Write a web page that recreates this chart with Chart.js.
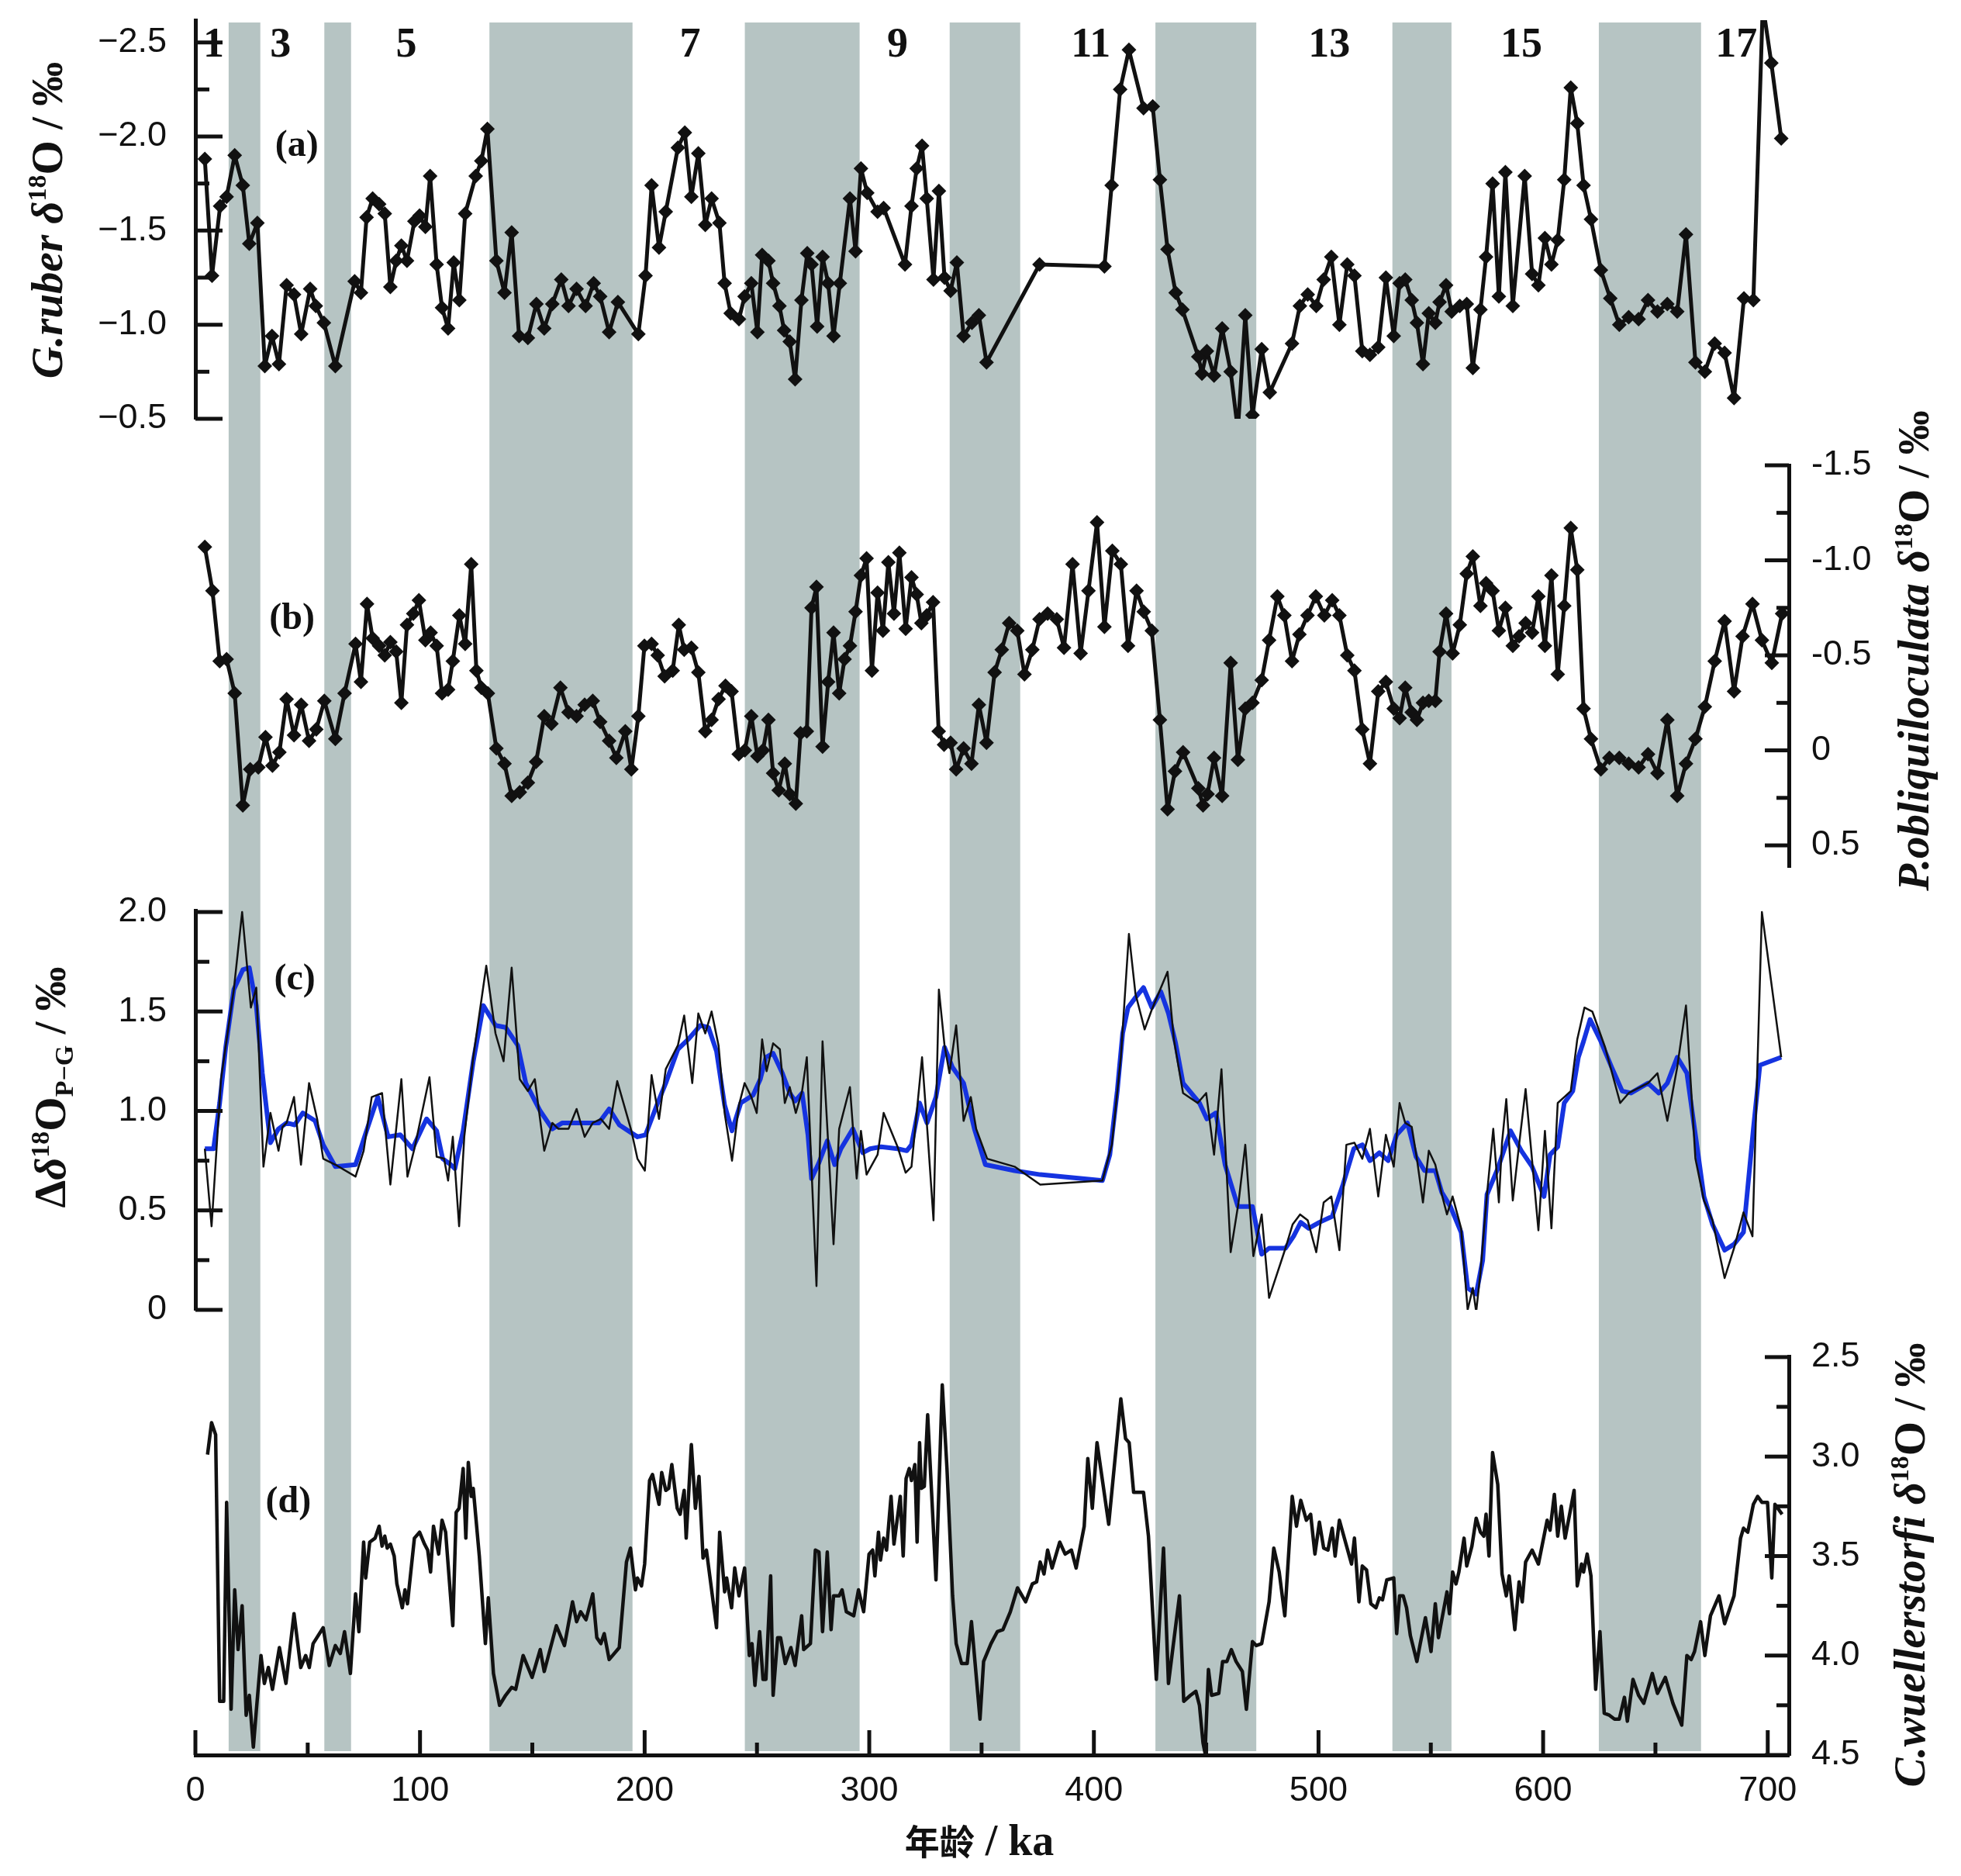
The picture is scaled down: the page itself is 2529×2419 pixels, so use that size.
<!DOCTYPE html>
<html>
<head>
<meta charset="utf-8">
<script src="https://cdn.jsdelivr.net/npm/chart.js@4.4.1/dist/chart.umd.min.js"></script>
<style>
  html, body { margin: 0; padding: 0; background: #fff; }
  #wrap { width: 2529px; height: 2419px; position: relative; }
</style>
</head>
<body>
<div id="wrap"><canvas id="chart"></canvas></div>
<script>
// glacial stages (shaded) and MIS numbers
const bands = [[14.8, 28.9], [57.4, 69.3], [130.9, 194.6], [244.6, 295.7],
  [335.8, 367.2], [427.4, 472.3], [532.9, 559.2], [624.8, 670.3]];
const misLabels = ['1', '3', '5', '7', '9', '11', '13', '15', '17'];
const misAges = [8.1, 37.9, 93.9, 220.2, 312.6, 398.6, 504.8, 590.3, 686.0];
const ageTicks = [0, 100, 200, 300, 400, 500, 600, 700];
const panelTags = ['(a)', '(b)', '(c)', '(d)'];
const tagAges = [45.1, 43.0, 44.2, 41.4];
const tagVals = [-1.95, -0.69, 1.66, 3.23];

// (a) G.ruber d18O
const rAge = [4.2, 7.4, 11.0, 13.9, 17.5, 21.1, 24.0, 27.6, 30.9, 34.1,
  37.2, 40.6, 43.9, 47.1, 51.1, 53.6, 57.2, 62.3, 70.9, 73.7,
  76.2, 78.9, 81.8, 84.3, 86.8, 89.4, 91.7, 94.2, 97.5, 99.8,
  102.4, 104.5, 107.4, 109.8, 112.5, 115.0, 117.5, 120.1, 124.8, 127.3,
  130.0, 134.0, 137.6, 140.8, 144.1, 148.0, 151.8, 155.3, 158.9, 162.9,
  166.1, 169.7, 173.7, 177.3, 180.2, 184.2, 188.1, 197.2, 200.4, 203.1,
  206.4, 209.4, 214.8, 217.9, 220.8, 223.9, 227.0, 229.8, 233.3, 235.6,
  238.3, 242.0, 244.5, 247.5, 250.2, 252.3, 255.1, 257.2, 260.0, 262.1,
  264.6, 267.0, 269.8, 272.4, 274.3, 276.8, 279.2, 281.7, 284.1, 286.9,
  291.4, 293.9, 296.3, 299.1, 303.7, 306.4, 315.9, 318.8, 321.1, 323.5,
  325.6, 328.6, 331.0, 333.5, 336.2, 339.0, 342.0, 345.7, 348.8, 352.2,
  375.8, 404.7, 407.9, 411.7, 415.6, 422.1, 426.2, 429.4, 432.8, 436.4,
  439.4, 446.5, 448.1, 450.3, 453.5, 457.1, 460.9, 464.1, 467.4, 470.6,
  474.7, 478.3, 488.2, 491.7, 495.2, 499.0, 502.3, 505.7, 509.3, 512.8,
  516.0, 519.5, 522.9, 526.6, 530.0, 533.5, 536.1, 538.6, 541.5, 543.8,
  546.5, 549.1, 552.0, 553.9, 556.8, 559.3, 562.9, 566.0, 568.7, 572.1,
  574.6, 577.5, 580.3, 583.2, 586.5, 591.8, 595.1, 597.9, 600.8, 603.7,
  606.5, 609.4, 612.3, 615.2, 618.0, 621.3, 625.7, 629.9, 633.9, 638.1,
  642.5, 646.7, 650.9, 655.3, 659.7, 663.6, 667.8, 672.0, 676.4, 680.8,
  685.0, 689.4, 693.6, 697.8, 701.6, 706.0];
const rVal = [-1.88, -1.26, -1.63, -1.68, -1.90, -1.74, -1.43, -1.54, -0.78, -0.94,
  -0.79, -1.21, -1.16, -0.95, -1.19, -1.10, -1.01, -0.78, -1.23, -1.17,
  -1.57, -1.67, -1.64, -1.59, -1.20, -1.34, -1.42, -1.34, -1.55, -1.58,
  -1.52, -1.79, -1.32, -1.09, -0.98, -1.33, -1.13, -1.59, -1.79, -1.87,
  -2.04, -1.34, -1.17, -1.49, -0.94, -0.93, -1.11, -0.98, -1.11, -1.24,
  -1.10, -1.19, -1.10, -1.22, -1.15, -0.96, -1.12, -0.95, -1.26, -1.74,
  -1.41, -1.60, -1.94, -2.02, -1.68, -1.91, -1.53, -1.67, -1.54, -1.22,
  -1.06, -1.03, -1.15, -1.22, -0.96, -1.37, -1.34, -1.22, -1.10, -0.97,
  -0.91, -0.71, -1.13, -1.38, -1.32, -0.99, -1.36, -1.22, -0.94, -1.22,
  -1.67, -1.39, -1.83, -1.70, -1.60, -1.62, -1.32, -1.63, -1.83, -1.95,
  -1.67, -1.24, -1.71, -1.25, -1.18, -1.33, -0.94, -1.01, -1.05, -0.80,
  -1.32, -1.31, -1.74, -2.25, -2.46, -2.15, -2.16, -1.77, -1.40, -1.17,
  -1.08, -0.83, -0.74, -0.86, -0.73, -0.98, -0.75, -0.44, -1.05, -0.52,
  -0.87, -0.64, -0.90, -1.10, -1.16, -1.10, -1.24, -1.36, -1.00, -1.32,
  -1.26, -0.86, -0.84, -0.88, -1.25, -0.94, -1.22, -1.24, -1.13, -1.01,
  -0.79, -1.06, -1.01, -1.12, -1.21, -1.07, -1.10, -1.11, -0.77, -1.08,
  -1.36, -1.75, -1.15, -1.81, -1.10, -1.79, -1.27, -1.21, -1.46, -1.32,
  -1.45, -1.77, -2.26, -2.07, -1.74, -1.56, -1.29, -1.14, -1.00, -1.04,
  -1.03, -1.13, -1.07, -1.11, -1.07, -1.48, -0.80, -0.75, -0.90, -0.85,
  -0.61, -1.14, -1.13, -2.70, -2.39, -1.99];

// (b) P.obliquiloculata d18O
const pAge = [4.2, 7.6, 10.8, 13.9, 17.5, 21.1, 24.4, 28.0, 31.2, 34.3,
  37.4, 40.6, 43.9, 47.1, 50.6, 53.8, 57.4, 62.3, 66.4, 71.3,
  73.7, 76.4, 78.9, 81.8, 84.3, 86.8, 89.4, 91.7, 94.2, 97.0,
  99.5, 102.4, 104.7, 107.4, 109.8, 112.5, 114.6, 117.5, 120.1, 122.8,
  125.1, 127.3, 130.2, 134.0, 137.6, 140.8, 144.4, 148.0, 151.7, 155.3,
  158.5, 162.5, 166.1, 169.7, 173.3, 176.9, 180.2, 184.2, 187.4, 191.4,
  194.1, 197.2, 199.9, 203.1, 205.8, 208.9, 212.5, 215.2, 217.6, 220.8,
  223.9, 227.0, 229.8, 232.9, 236.0, 238.7, 241.9, 244.6, 247.5, 250.2,
  252.7, 255.1, 257.2, 259.7, 262.4, 264.6, 267.3, 269.4, 272.2, 274.3,
  276.5, 279.2, 281.7, 284.1, 286.6, 289.0, 291.4, 293.9, 296.3, 298.8,
  301.2, 303.7, 306.1, 308.5, 311.0, 313.4, 316.2, 318.8, 321.1, 323.2,
  325.6, 328.4, 330.9, 333.3, 336.2, 338.7, 342.0, 345.5, 348.8, 352.2,
  355.8, 359.0, 362.3, 365.9, 369.1, 372.6, 375.8, 379.4, 383.5, 386.7,
  390.5, 394.1, 397.6, 401.4, 404.7, 408.2, 412.0, 415.2, 419.0, 422.2,
  425.8, 429.4, 432.8, 436.1, 439.7, 446.5, 448.6, 450.6, 453.5, 457.1,
  460.9, 464.1, 467.4, 470.6, 474.7, 478.0, 481.7, 484.8, 488.2, 491.5,
  495.1, 498.8, 502.6, 506.1, 509.3, 512.8, 516.0, 519.5, 522.9, 526.6,
  530.0, 533.5, 536.1, 538.6, 541.5, 543.8, 546.5, 549.1, 552.0, 553.9,
  556.8, 559.7, 562.9, 566.0, 568.7, 572.1, 574.6, 577.5, 580.3, 583.2,
  586.5, 589.3, 592.2, 595.1, 597.9, 600.8, 603.7, 606.5, 609.4, 612.3,
  615.2, 618.0, 621.3, 625.7, 629.5, 633.9, 638.1, 642.5, 646.7, 650.9,
  655.3, 659.7, 663.6, 667.8, 672.0, 676.4, 680.8, 685.0, 688.8, 693.2,
  697.4, 701.8, 706.4];
const pVal = [-1.07, -0.84, -0.47, -0.48, -0.30, 0.29, 0.10, 0.09, -0.07, 0.08,
  0.01, -0.27, -0.08, -0.24, -0.05, -0.11, -0.26, -0.06, -0.30, -0.56,
  -0.36, -0.77, -0.59, -0.55, -0.50, -0.57, -0.52, -0.25, -0.66, -0.72,
  -0.79, -0.58, -0.62, -0.55, -0.30, -0.32, -0.47, -0.71, -0.56, -0.98,
  -0.42, -0.33, -0.30, -0.01, 0.07, 0.24, 0.22, 0.17, 0.06, -0.18,
  -0.14, -0.33, -0.20, -0.18, -0.24, -0.26, -0.15, -0.05, 0.04, -0.10,
  0.10, -0.18, -0.55, -0.56, -0.50, -0.39, -0.42, -0.66, -0.53, -0.54,
  -0.41, -0.10, -0.16, -0.27, -0.34, -0.31, 0.02, 0.00, -0.18, 0.03,
  0.00, -0.16, 0.12, 0.21, 0.07, 0.23, 0.28, -0.09, -0.10, -0.75,
  -0.86, -0.02, -0.36, -0.62, -0.30, -0.48, -0.55, -0.73, -0.92, -1.01,
  -0.42, -0.83, -0.63, -0.99, -0.72, -1.04, -0.64, -0.91, -0.82, -0.67,
  -0.71, -0.78, -0.10, -0.03, -0.04, 0.10, -0.01, 0.07, -0.24, -0.04,
  -0.41, -0.53, -0.67, -0.63, -0.40, -0.53, -0.69, -0.72, -0.69, -0.54,
  -0.98, -0.51, -0.84, -1.20, -0.65, -1.05, -0.98, -0.55, -0.84, -0.73,
  -0.63, -0.16, 0.31, 0.11, 0.01, 0.20, 0.29, 0.23, 0.04, 0.24,
  -0.46, 0.05, -0.22, -0.25, -0.37, -0.58, -0.81, -0.71, -0.47, -0.61,
  -0.71, -0.81, -0.71, -0.79, -0.71, -0.50, -0.42, -0.11, 0.07, -0.31,
  -0.36, -0.22, -0.17, -0.33, -0.20, -0.16, -0.25, -0.26, -0.26, -0.52,
  -0.72, -0.51, -0.66, -0.93, -1.02, -0.76, -0.88, -0.84, -0.63, -0.75,
  -0.55, -0.60, -0.67, -0.62, -0.81, -0.55, -0.92, -0.40, -0.76, -1.17,
  -0.95, -0.22, -0.06, 0.10, 0.04, 0.04, 0.07, 0.09, 0.02, 0.12,
  -0.16, 0.24, 0.07, -0.06, -0.23, -0.47, -0.68, -0.31, -0.60, -0.77,
  -0.58, -0.46, -0.72];

// (c) delta d18O (P - G), raw
const dAge = [4.2, 7.2, 11.4, 17.1, 20.8, 22.9, 24.7, 27.1, 28.3, 30.3,
  33.4, 37.0, 38.8, 40.6, 43.9, 47.0, 50.6, 54.2, 56.9, 62.3,
  71.3, 74.9, 78.5, 83.1, 86.8, 91.7, 94.4, 97.5, 104.2, 107.4,
  110.7, 112.5, 114.6, 117.4, 119.7, 123.7, 129.5, 133.6, 137.2, 140.8,
  144.4, 148.0, 151.1, 155.3, 158.9, 161.6, 166.1, 169.7, 173.3, 176.9,
  180.5, 184.2, 187.8, 194.1, 196.8, 200.1, 203.1, 206.4, 209.4, 214.8,
  217.6, 221.2, 223.9, 227.0, 229.8, 232.9, 235.6, 238.9, 242.0, 244.5,
  247.5, 249.9, 252.3, 254.3, 257.2, 260.2, 262.4, 264.6, 267.3, 270.1,
  272.2, 276.5, 279.2, 281.7, 284.1, 286.6, 291.4, 294.4, 296.3, 298.8,
  303.7, 306.4, 312.6, 316.2, 318.8, 323.5, 326.0, 328.6, 331.0, 333.5,
  335.7, 338.7, 342.0, 345.2, 347.6, 352.5, 364.7, 376.1, 403.8, 408.0,
  412.0, 415.6, 418.5, 422.6, 425.8, 432.8, 435.6, 439.7, 446.2, 450.0,
  453.5, 456.8, 460.9, 464.4, 467.4, 471.0, 474.7, 478.0, 485.3, 488.5,
  491.8, 495.2, 499.0, 502.3, 505.7, 509.3, 512.4, 516.0, 519.5, 522.9,
  526.6, 530.0, 533.5, 536.1, 538.6, 541.5, 543.8, 546.5, 549.1, 552.0,
  554.9, 557.2, 559.7, 563.5, 566.4, 568.7, 570.2, 572.1, 575.0, 577.8,
  580.3, 581.7, 583.6, 586.5, 589.3, 592.2, 595.1, 597.9, 600.8, 603.7,
  606.5, 609.4, 612.3, 615.2, 618.4, 621.9, 627.6, 634.3, 638.1, 646.7,
  650.9, 655.3, 659.7, 663.6, 667.8, 671.6, 675.4, 680.8, 685.0, 689.2,
  693.2, 697.4, 706.0];
const dVal = [0.81, 0.42, 1.16, 1.61, 2.00, 1.74, 1.52, 1.62, 1.29, 0.72,
  0.99, 0.80, 0.92, 0.94, 1.07, 0.73, 1.14, 0.96, 0.76, 0.73,
  0.67, 0.80, 1.07, 1.09, 0.63, 1.16, 0.67, 0.81, 1.17, 0.77,
  0.76, 0.65, 0.87, 0.42, 0.87, 1.27, 1.73, 1.39, 1.25, 1.72,
  1.16, 1.10, 1.16, 0.80, 0.94, 0.91, 0.91, 1.01, 0.87, 0.94,
  0.96, 0.91, 1.15, 0.90, 0.76, 0.70, 1.18, 0.96, 1.21, 1.33,
  1.48, 1.14, 1.49, 1.39, 1.50, 1.33, 0.99, 0.75, 1.03, 1.14,
  1.07, 0.99, 1.36, 1.20, 1.34, 1.31, 1.04, 1.12, 0.99, 1.10,
  1.27, 0.12, 1.35, 0.84, 0.33, 0.91, 1.12, 0.66, 0.90, 0.68,
  0.78, 0.99, 0.82, 0.69, 0.72, 1.27, 0.88, 0.45, 1.61, 1.33,
  1.19, 1.43, 0.95, 1.07, 0.91, 0.76, 0.72, 0.63, 0.65, 0.83,
  1.27, 1.89, 1.59, 1.41, 1.51, 1.70, 1.36, 1.09, 1.04, 1.09,
  0.78, 1.21, 0.29, 0.54, 0.83, 0.27, 0.48, 0.06, 0.31, 0.43,
  0.48, 0.45, 0.29, 0.54, 0.57, 0.30, 0.83, 0.84, 0.76, 0.91,
  0.57, 0.88, 0.72, 1.04, 0.94, 0.92, 0.76, 0.54, 0.80, 0.73,
  0.58, 0.48, 0.57, 0.41, 0.00, 0.11, -0.01, 0.19, 0.58, 0.91,
  0.54, 0.84, 1.06, 0.55, 0.83, 1.11, 0.75, 0.40, 0.90, 0.41,
  1.04, 1.07, 1.10, 1.36, 1.52, 1.50, 1.32, 1.04, 1.09, 1.14,
  1.19, 0.95, 1.22, 1.53, 0.76, 0.55, 0.45, 0.16, 0.31, 0.49,
  0.37, 2.00, 1.27];

// (c) delta d18O (P - G), smoothed
const sAge = [4.2, 8.1, 10.8, 13.5, 17.1, 21.1, 24.0, 27.1, 29.8, 33.4,
  37.0, 40.6, 44.2, 47.8, 53.3, 56.9, 62.3, 71.3, 75.3, 81.2,
  85.8, 91.2, 96.6, 102.9, 107.4, 110.1, 113.7, 115.5, 119.2, 123.7,
  128.2, 133.6, 138.1, 143.5, 147.1, 153.5, 158.9, 163.4, 170.6, 179.6,
  184.2, 188.7, 196.8, 200.4, 205.8, 209.4, 214.8, 219.4, 224.8, 228.4,
  232.0, 235.6, 238.9, 242.8, 248.3, 251.5, 254.0, 257.2, 261.3, 264.6,
  267.0, 270.1, 272.7, 274.3, 277.6, 281.3, 284.6, 287.4, 292.7, 297.1,
  300.4, 305.3, 312.6, 316.7, 318.8, 322.4, 325.7, 329.7, 333.5, 337.0,
  342.0, 346.8, 351.7, 364.7, 376.1, 403.8, 407.1, 410.4, 412.8, 415.2,
  418.5, 422.1, 425.8, 429.8, 433.2, 436.4, 439.7, 447.0, 450.3, 454.3,
  458.4, 464.1, 470.6, 474.7, 478.0, 485.3, 488.9, 492.1, 495.6, 500.4,
  506.1, 510.9, 515.7, 519.5, 522.9, 527.1, 531.0, 534.8, 539.6, 543.4,
  547.2, 552.0, 554.9, 558.7, 563.5, 566.4, 570.2, 573.1, 575.0, 579.8,
  585.5, 590.3, 595.1, 600.4, 603.1, 606.5, 609.4, 613.2, 615.7, 618.0,
  620.9, 625.7, 630.5, 635.2, 639.1, 646.7, 651.5, 655.3, 659.7, 664.0,
  667.8, 671.6, 675.4, 680.8, 685.0, 689.2, 693.6, 696.5, 706.0];
const sVal = [0.81, 0.81, 1.04, 1.32, 1.61, 1.71, 1.72, 1.53, 1.19, 0.84,
  0.91, 0.94, 0.93, 0.99, 0.95, 0.83, 0.72, 0.73, 0.87, 1.07,
  0.87, 0.88, 0.81, 0.96, 0.90, 0.76, 0.73, 0.71, 0.90, 1.25,
  1.53, 1.43, 1.42, 1.33, 1.14, 1.00, 0.91, 0.94, 0.94, 0.94,
  1.01, 0.93, 0.87, 0.88, 1.04, 1.14, 1.31, 1.36, 1.43, 1.42,
  1.30, 1.03, 0.90, 1.04, 1.08, 1.16, 1.27, 1.29, 1.19, 1.09,
  1.05, 1.09, 0.88, 0.66, 0.74, 0.85, 0.73, 0.81, 0.91, 0.79,
  0.81, 0.82, 0.81, 0.80, 0.83, 1.04, 0.94, 1.07, 1.32, 1.22,
  1.14, 0.91, 0.73, 0.70, 0.68, 0.65, 0.78, 1.10, 1.39, 1.52,
  1.57, 1.62, 1.52, 1.60, 1.49, 1.34, 1.14, 1.04, 0.96, 0.99,
  0.73, 0.52, 0.52, 0.28, 0.31, 0.31, 0.37, 0.44, 0.41, 0.44,
  0.47, 0.63, 0.81, 0.83, 0.75, 0.79, 0.75, 0.88, 0.94, 0.77,
  0.70, 0.70, 0.59, 0.52, 0.39, 0.11, 0.08, 0.25, 0.58, 0.71,
  0.90, 0.80, 0.72, 0.57, 0.78, 0.82, 1.04, 1.10, 1.27, 1.35,
  1.46, 1.35, 1.22, 1.10, 1.09, 1.14, 1.09, 1.14, 1.27, 1.19,
  0.88, 0.57, 0.43, 0.30, 0.33, 0.39, 0.91, 1.23, 1.27];

// (d) C.wuellerstorfi d18O
const wAge = [5.4, 7.2, 9.0, 10.8, 12.6, 13.9, 15.9, 17.5, 19.0, 20.8,
  22.6, 24.0, 25.8, 27.1, 29.2, 30.7, 32.5, 34.3, 37.4, 40.3,
  43.9, 46.9, 49.1, 50.7, 52.4, 56.9, 59.6, 62.3, 64.5, 66.4,
  69.0, 71.3, 72.8, 74.9, 75.8, 77.6, 80.0, 81.8, 83.1, 84.3,
  85.4, 86.8, 88.5, 89.7, 92.1, 93.3, 94.4, 97.5, 99.8, 102.0,
  103.4, 104.7, 106.0, 108.3, 109.8, 111.4, 114.6, 116.1, 117.4, 119.2,
  120.4, 121.5, 122.8, 123.7, 126.4, 129.1, 130.4, 132.7, 135.4, 138.1,
  140.8, 142.6, 145.9, 149.9, 153.5, 155.3, 160.7, 164.3, 167.9, 169.7,
  171.5, 173.9, 176.9, 178.7, 180.5, 182.0, 184.2, 188.7, 191.9, 193.7,
  195.9, 196.8, 198.6, 200.0, 202.2, 203.5, 206.4, 207.6, 209.4, 210.7,
  212.1, 214.5, 215.8, 217.6, 218.5, 220.8, 222.6, 224.2, 226.0, 227.5,
  232.0, 233.4, 235.6, 236.5, 238.7, 240.1, 242.0, 244.5, 246.6, 247.8,
  249.1, 251.2, 252.7, 254.0, 256.1, 257.2, 259.2, 260.5, 262.6, 265.1,
  267.0, 269.9, 270.8, 273.8, 276.0, 277.6, 279.2, 281.3, 283.0, 284.1,
  286.6, 287.9, 289.8, 293.1, 295.2, 297.5, 299.9, 301.5, 302.5, 304.1,
  305.0, 306.4, 307.7, 309.7, 311.0, 313.8, 315.1, 316.4, 317.8, 318.8,
  320.3, 321.3, 322.4, 323.2, 324.5, 326.0, 329.7, 332.5, 334.6, 337.1,
  338.7, 341.1, 343.6, 345.5, 349.3, 350.9, 354.2, 357.0, 359.5, 362.8,
  366.0, 369.6, 372.6, 374.5, 376.1, 377.8, 379.4, 381.4, 384.8, 387.2,
  390.0, 392.1, 395.7, 397.3, 399.3, 401.4, 406.6, 412.0, 414.1, 415.7,
  417.7, 422.1, 424.3, 427.8, 431.0, 433.2, 438.1, 440.0, 443.0, 445.4,
  447.0, 448.6, 449.5, 451.0, 452.4, 455.6, 457.3, 459.2, 461.2, 463.3,
  466.1, 467.9, 470.6, 472.3, 474.7, 478.0, 480.1, 482.5, 485.0, 488.3,
  490.2, 492.1, 494.6, 496.5, 498.4, 500.4, 502.3, 504.2, 506.1, 507.4,
  509.3, 514.7, 516.0, 518.0, 519.5, 521.4, 523.3, 525.6, 527.1, 528.5,
  530.4, 533.5, 534.8, 536.1, 537.7, 539.2, 540.9, 543.8, 545.3, 547.6,
  550.1, 552.0, 553.4, 557.2, 558.3, 559.7, 561.2, 562.5, 564.8, 566.0,
  568.3, 570.2, 572.1, 573.6, 574.6, 575.9, 577.5, 579.8, 581.7, 583.6,
  584.9, 587.4, 589.3, 590.7, 592.2, 595.1, 597.9, 601.8, 603.1, 605.0,
  606.5, 608.1, 609.8, 613.8, 615.2, 617.1, 618.0, 619.6, 621.3, 623.4,
  625.3, 627.2, 629.5, 631.8, 633.9, 636.2, 637.5, 640.0, 642.5, 644.8,
  648.6, 650.9, 654.4, 657.8, 661.7, 664.0, 665.9, 667.4, 670.1, 672.0,
  674.5, 678.3, 680.8, 685.0, 687.9, 689.2, 691.1, 693.6, 695.5, 697.4,
  699.9, 701.8, 703.2, 706.4];
const wVal = [2.99, 2.83, 2.89, 4.23, 4.23, 3.23, 4.27, 3.67, 3.97, 3.75,
  4.30, 4.20, 4.46, 4.28, 4.00, 4.14, 4.06, 4.17, 3.96, 4.14,
  3.79, 4.06, 4.00, 4.06, 3.94, 3.86, 4.05, 3.95, 3.99, 3.88,
  4.09, 3.69, 3.88, 3.43, 3.61, 3.43, 3.41, 3.35, 3.45, 3.40,
  3.46, 3.44, 3.50, 3.64, 3.76, 3.67, 3.74, 3.41, 3.38, 3.44,
  3.47, 3.58, 3.35, 3.49, 3.32, 3.38, 3.85, 3.28, 3.26, 3.06,
  3.41, 3.03, 3.20, 3.16, 3.50, 3.94, 3.71, 4.09, 4.25, 4.20,
  4.16, 4.17, 4.00, 4.11, 3.97, 4.08, 3.85, 3.95, 3.73, 3.83,
  3.78, 3.82, 3.69, 3.91, 3.94, 3.89, 4.02, 3.96, 3.53, 3.46,
  3.67, 3.61, 3.65, 3.54, 3.12, 3.09, 3.24, 3.08, 3.17, 3.16,
  3.04, 3.26, 3.29, 3.17, 3.41, 2.94, 3.26, 3.10, 3.51, 3.47,
  3.86, 3.38, 3.68, 3.61, 3.76, 3.56, 3.70, 3.56, 4.00, 3.94,
  4.15, 3.88, 4.12, 4.12, 3.60, 4.20, 3.91, 3.91, 4.04, 3.96,
  4.05, 3.80, 3.97, 3.94, 3.47, 3.48, 3.88, 3.48, 3.87, 3.70,
  3.70, 3.67, 3.78, 3.80, 3.67, 3.78, 3.49, 3.47, 3.60, 3.38,
  3.52, 3.41, 3.47, 3.20, 3.44, 3.20, 3.50, 3.11, 3.06, 3.12,
  3.04, 3.43, 2.93, 3.16, 3.15, 2.79, 3.62, 2.64, 3.06, 3.70,
  3.94, 4.04, 4.04, 3.83, 4.32, 4.03, 3.94, 3.88, 3.87, 3.78,
  3.66, 3.73, 3.64, 3.63, 3.53, 3.59, 3.47, 3.56, 3.43, 3.49,
  3.47, 3.56, 3.35, 3.01, 3.26, 2.93, 3.34, 2.71, 2.91, 2.93,
  3.18, 3.18, 3.40, 4.12, 3.46, 4.14, 3.70, 4.23, 4.20, 4.18,
  4.25, 4.44, 4.49, 4.07, 4.20, 4.19, 4.03, 4.03, 3.97, 4.03,
  4.08, 4.27, 3.93, 3.95, 3.94, 3.73, 3.46, 3.58, 3.80, 3.20,
  3.35, 3.22, 3.32, 3.29, 3.49, 3.33, 3.46, 3.47, 3.36, 3.50,
  3.32, 3.54, 3.41, 3.73, 3.55, 3.57, 3.74, 3.76, 3.71, 3.72,
  3.62, 3.61, 3.89, 3.70, 3.70, 3.76, 3.90, 4.03, 3.94, 3.81,
  3.98, 3.74, 3.91, 3.68, 3.79, 3.58, 3.64, 3.58, 3.41, 3.55,
  3.45, 3.31, 3.38, 3.40, 3.29, 3.50, 2.98, 3.14, 3.59, 3.70,
  3.60, 3.87, 3.63, 3.73, 3.53, 3.47, 3.54, 3.32, 3.37, 3.19,
  3.40, 3.25, 3.41, 3.17, 3.65, 3.54, 3.58, 3.49, 3.60, 4.17,
  3.88, 4.29, 4.30, 4.32, 4.32, 4.21, 4.33, 4.12, 4.20, 4.24,
  4.09, 4.19, 4.11, 4.24, 4.35, 4.00, 4.02, 3.98, 3.83, 4.00,
  3.80, 3.70, 3.84, 3.70, 3.41, 3.36, 3.38, 3.24, 3.20, 3.23,
  3.23, 3.61, 3.24, 3.29];

const SERIF = '"Liberation Serif", "Times New Roman", serif';
const SANS = '"Liberation Sans", Arial, sans-serif';
const INK = '#111';

const pts = (xs, ys) => xs.map((x, i) => ({ x: x, y: ys[i] }));

function seg(ctx, x1, y1, x2, y2) {
  ctx.beginPath();
  ctx.moveTo(x1, y1);
  ctx.lineTo(x2, y2);
  ctx.stroke();
}

// inward tick marks, majors on the labelled values and minors halfway
function yMarks(ctx, s, dir, major, minor) {
  const x0 = dir > 0 ? s.right : s.left;
  const t = s.ticks.map(k => k.value);
  t.forEach((v, i) => {
    const y = s.getPixelForValue(v);
    seg(ctx, x0, y, x0 + dir * major, y);
    if (i < t.length - 1) {
      const ym = s.getPixelForValue((v + t[i + 1]) / 2);
      seg(ctx, x0, ym, x0 + dir * minor, ym);
    }
  });
}

// mixed-style text (italic names, superscript 18, subscript P-G)
function rich(ctx, cx, cy, parts, size, rot) {
  const small = Math.round(size * 0.6);
  const font = p => {
    if (p[1] === 'cjk') return 'bold ' + Math.round(size * 0.8) + 'px "Noto Sans CJK SC", sans-serif';
    const sz = (p[1] === 'sup' || p[1] === 'sub') ? small : size;
    return (p[1] === 'bi' ? 'italic ' : '') + 'bold ' + sz + 'px ' + SERIF;
  };
  ctx.save();
  ctx.translate(cx, cy);
  ctx.rotate(rot);
  let w = 0;
  const widths = parts.map(p => { ctx.font = font(p); const m = ctx.measureText(p[0]).width; w += m; return m; });
  let x = -w / 2;
  ctx.textAlign = 'left';
  ctx.textBaseline = 'alphabetic';
  ctx.fillStyle = INK;
  parts.forEach((p, i) => {
    ctx.font = font(p);
    const dy = p[1] === 'sup' ? -0.36 * size : p[1] === 'sub' ? 0.17 * size : 0;
    ctx.fillText(p[0], x, 0.33 * size + dy);
    x += widths[i];
  });
  ctx.restore();
}

const titles = [
  { x: 61, y: 284, parts: [['G.ruber', 'bi'], [' ', 'b'], ['δ', 'bi'], ['18', 'sup'], ['O / ‰', 'b']] },
  { x: 2468, y: 839, parts: [['P.obliquiloculata', 'bi'], [' ', 'b'], ['δ', 'bi'], ['18', 'sup'], ['O / ‰', 'b']] },
  { x: 65, y: 1402, parts: [['Δ', 'b'], ['δ', 'bi'], ['18', 'sup'], ['O', 'b'], ['P−G', 'sub'], [' / ‰', 'b']] },
  { x: 2463, y: 2018, parts: [['C.wuellerstorfi', 'bi'], [' ', 'b'], ['δ', 'bi'], ['18', 'sup'], ['O / ‰', 'b']] }
];

const decor = {
  id: 'decor',
  beforeDatasetsDraw(chart) {
    const ctx = chart.ctx, xs = chart.scales.x, a = chart.chartArea;
    ctx.save();
    ctx.fillStyle = '#b6c4c3';
    bands.forEach(b => {
      const x0 = xs.getPixelForValue(b[0]), x1 = xs.getPixelForValue(b[1]);
      ctx.fillRect(x0, a.top + 3, x1 - x0, a.bottom - a.top - 8);
    });
    ctx.restore();
  },
  afterDraw(chart) {
    const ctx = chart.ctx, sc = chart.scales, a = chart.chartArea;
    ctx.save();
    ctx.strokeStyle = INK;
    ctx.lineWidth = 5;
    ctx.lineCap = 'butt';
    yMarks(ctx, sc.yA, 1, 35, 18);
    yMarks(ctx, sc.yC, 1, 35, 18);
    yMarks(ctx, sc.yB, -1, 31, 16);
    yMarks(ctx, sc.yD, -1, 31, 16);
    const xt = sc.x.ticks.map(k => k.value);
    xt.forEach((v, i) => {
      const x = sc.x.getPixelForValue(v);
      seg(ctx, x, sc.x.top, x, sc.x.top - 32);
      if (i < xt.length - 1) {
        const xm = sc.x.getPixelForValue((v + xt[i + 1]) / 2);
        seg(ctx, xm, sc.x.top, xm, sc.x.top - 16);
      }
    });

    ctx.fillStyle = INK;
    ctx.textAlign = 'center';
    ctx.textBaseline = 'middle';
    ctx.font = 'bold 54px ' + SERIF;
    misLabels.forEach((t, i) => ctx.fillText(t, sc.x.getPixelForValue(misAges[i]), a.top + 33));

    ctx.font = 'bold 48px ' + SERIF;
    ['yA', 'yB', 'yC', 'yD'].forEach((id, i) => {
      ctx.fillText(panelTags[i], sc.x.getPixelForValue(tagAges[i]), sc[id].getPixelForValue(tagVals[i]));
    });
    ctx.restore();

    titles.forEach(t => rich(ctx, t.x, t.y, t.parts, 57, -Math.PI / 2));
    rich(ctx, 1263, 2374, [['年龄', 'cjk'], [' / ka', 'b']], 56, 0);
  }
};

const tickFont = { family: SANS, size: 45 };
const fix = v => (v === 0 ? '0' : v.toFixed(1));

function yAxis(pos, stack, stackWeight, weight, min, max, reverse, pad, fmt) {
  return {
    type: 'linear', position: pos, stack: stack, stackWeight: stackWeight, weight: weight,
    min: min, max: max, reverse: reverse,
    grid: { display: false, drawTicks: false },
    border: { display: true, width: 5, color: INK },
    ticks: { stepSize: 0.5, includeBounds: false, padding: pad, font: tickFont, color: INK, callback: fmt },
    afterFit: s => {
      s.width = pos === 'left' ? 252 : 222;
      s.paddingTop = 0; s.paddingBottom = 0;
    }
  };
}
function gap(pos, stack, stackWeight, weight) {
  return { type: 'linear', position: pos, stack: stack, stackWeight: stackWeight, weight: weight, display: false, min: 0, max: 1 };
}

new Chart(document.getElementById('chart'), {
  type: 'line',
  data: {
    datasets: [
      { data: pts(rAge, rVal), yAxisID: 'yA', borderColor: INK, borderWidth: 5, borderJoinStyle: 'round',
        pointStyle: 'rectRot', pointRadius: 9.5, pointBackgroundColor: INK, pointBorderWidth: 0 },
      { data: pts(pAge, pVal), yAxisID: 'yB', borderColor: INK, borderWidth: 5, borderJoinStyle: 'round',
        pointStyle: 'rectRot', pointRadius: 9.5, pointBackgroundColor: INK, pointBorderWidth: 0 },
      { data: pts(dAge, dVal), yAxisID: 'yC', borderColor: INK, borderWidth: 2.5, borderJoinStyle: 'round', pointRadius: 0 },
      { data: pts(sAge, sVal), yAxisID: 'yC', borderColor: '#1533e0', borderWidth: 6, borderJoinStyle: 'round', pointRadius: 0 },
      { data: pts(wAge, wVal), yAxisID: 'yD', borderColor: INK, borderWidth: 4.5, borderJoinStyle: 'round', pointRadius: 0 }
    ]
  },
  options: {
    responsive: true,
    maintainAspectRatio: false,
    animation: false,
    devicePixelRatio: 1,
    layout: { padding: { top: 26, left: 0, right: 0, bottom: 0 } },
    elements: { line: { tension: 0 } },
    plugins: { legend: { display: false }, tooltip: { enabled: false } },
    scales: {
      x: {
        type: 'linear', position: 'bottom', min: 0, max: 709.4,
        grid: { display: false, drawTicks: false },
        border: { display: true, width: 5, color: INK },
        ticks: { padding: 20, font: tickFont, color: INK, maxRotation: 0, autoSkip: false },
        afterBuildTicks: s => { s.ticks = ageTicks.map(v => ({ value: v })); },
        afterFit: s => { s.height = 156; s.paddingLeft = 0; s.paddingRight = 0; }
      },
      yA: yAxis('left', 'L', 514, 4, -2.618, -0.5, true, 37, v => v.toFixed(1).replace('-', '−')),
      gapL1: gap('left', 'L', 634, 3),
      yC: yAxis('left', 'L', 515, 2, 0, 2.008, false, 37, fix),
      gapL2: gap('left', 'L', 574, 1),
      gapR1: gap('right', 'R', 574, 1),
      yB: yAxis('right', 'R', 518, 2, -1.5, 0.614, true, 29, fix),
      gapR2: gap('right', 'R', 631, 3),
      yD: yAxis('right', 'R', 514, 4, 2.4965, 4.5, true, 29, fix)
    }
  },
  plugins: [decor]
});
</script>
</body>
</html>
